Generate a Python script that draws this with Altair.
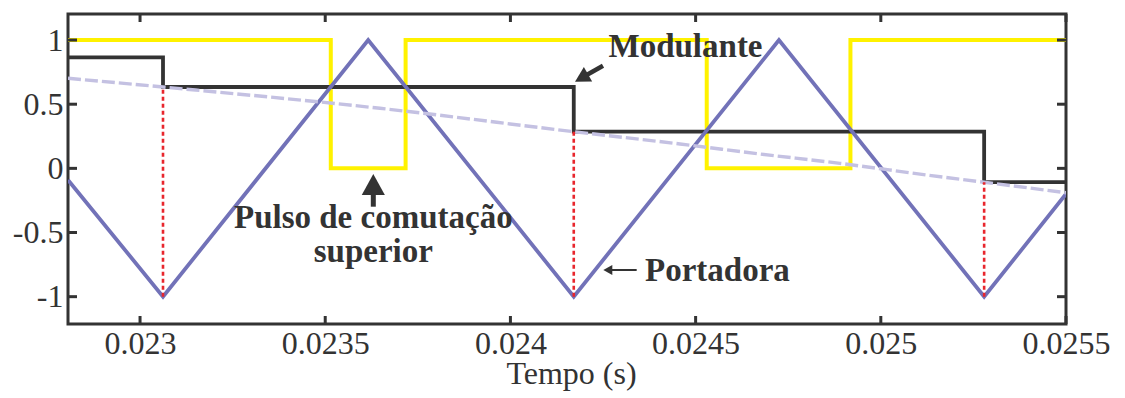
import altair as alt
import pandas as pd

# Time axis limits (s)
t_start = 0.0228055
t_end = 0.0255

# Triangular carrier ("Portadora") vertices
carrier_t = [t_start, 0.023062, 0.023616, 0.024171, 0.024725, 0.025279, t_end]
carrier_v = [-0.09, -1.0, 1.0, -1.0, 1.0, -1.0, -0.2]

# Continuous modulating wave (dashed)
wave_t = [t_start, 0.023062, 0.0236479, 0.024171, 0.0244579, 0.0246738,
          0.0248898, 0.0251247, 0.025279, t_end]
wave_v = [0.702, 0.634, 0.468, 0.286, 0.19, 0.112, 0.039, -0.052, -0.108, -0.19]

# Sampled-and-held modulating signal ("Modulante")
sample_t = [t_start, 0.023062, 0.024171, 0.025279, t_end]
sample_v = [0.865, 0.634, 0.286, -0.108, -0.108]

# Upper switch gate pulse
pulse_t = [t_start, 0.023515, 0.023717, 0.02453, 0.024918, t_end]
pulse_v = [1, 0, 1, 0, 1, 1]

# Sampling instants (red dashed markers)
mark_t = [0.023062, 0.024171, 0.025279]
mark_top = [0.634, 0.286, -0.108]

x_ticks = [0.023, 0.0235, 0.024, 0.0245, 0.025, 0.0255]
y_ticks = [-1, -0.5, 0, 0.5, 1]

FONT = "Liberation Serif"
INK = "#333333"
W, H = 998, 310

xs = alt.Scale(domain=[t_start, t_end], nice=False, zero=False)
ys = alt.Scale(domain=[-1.213, 1.203], nice=False, zero=False)

x_axis = alt.Axis(values=x_ticks, format=".4~f", labelFont=FONT, labelFontSize=32,
                  labelColor=INK, ticks=False, tickSize=0, domain=False, grid=False,
                  labelPadding=4, labelFlush=False, title="Tempo (s)", titleFont=FONT,
                  titleFontSize=32, titleFontWeight="normal", titleColor=INK,
                  titleX=503, titleY=59, titleBaseline="alphabetic", titleAlign="center")
y_axis = alt.Axis(values=y_ticks,
                  labelExpr="datum.value < 0 ? '-' + format(-datum.value, '~g') : format(datum.value, '~g')",
                  labelFont=FONT, labelFontSize=32, labelColor=INK, ticks=False, tickSize=0,
                  domain=False, grid=False, labelPadding=5, labelFlush=False, title=None)


def X(field="t"):
    return alt.X(f"{field}:Q", scale=xs, axis=x_axis)


def Y(field="v"):
    return alt.Y(f"{field}:Q", scale=ys, axis=y_axis)


def line_df(t, v):
    return pd.DataFrame({"t": t, "v": v})


pulse = alt.Chart(line_df(pulse_t, pulse_v)).mark_line(
    color="#fff200", strokeWidth=4, interpolate="step-after", clip=True
).encode(x=X(), y=Y())

held = alt.Chart(line_df(sample_t, sample_v)).mark_line(
    color=INK, strokeWidth=3.8, interpolate="step-after", clip=True
).encode(x=X(), y=Y())

carrier = alt.Chart(line_df(carrier_t, carrier_v)).mark_line(
    color="#7272b8", strokeWidth=3.8, clip=True
).encode(x=X(), y=Y())

wave = alt.Chart(line_df(wave_t, wave_v)).mark_line(
    color="#c4c1e2", strokeWidth=3.4, strokeDash=[13, 4], interpolate="monotone", clip=True
).encode(x=X(), y=Y())

marks = alt.Chart(pd.DataFrame({"t": mark_t, "v": [-1] * 3, "hi": mark_top})).mark_rule(
    color="#e8262d", strokeWidth=2.6, strokeDash=[4, 3]
).encode(x=X(), y=Y(), y2="hi:Q")

# Inward tick marks on all four sides
xt = pd.DataFrame({"t": x_ticks})
yt = pd.DataFrame({"v": y_ticks})
tick_style = dict(color=INK, strokeWidth=3)
ticks = [
    alt.Chart(xt).mark_rule(**tick_style).encode(x=X(), y=alt.value(H), y2=alt.value(H - 8)),
    alt.Chart(xt).mark_rule(**tick_style).encode(x=X(), y=alt.value(0), y2=alt.value(8)),
    alt.Chart(yt).mark_rule(**tick_style).encode(y=Y(), x=alt.value(0), x2=alt.value(9)),
    alt.Chart(yt).mark_rule(**tick_style).encode(y=Y(), x=alt.value(W), x2=alt.value(W - 9)),
]

# Annotations
labels = pd.DataFrame({
    "t": [0.0244727, 0.0236298, 0.0236298],
    "v": [0.870, -0.467, -0.729],
    "text": ["Modulante", "Pulso de comutação", "superior"],
})
label_text = alt.Chart(labels).mark_text(
    font=FONT, fontSize=33, fontWeight="bold", color=INK, align="center", baseline="alphabetic"
).encode(x=X(), y=Y(), text="text:N")

port_text = alt.Chart(pd.DataFrame({"t": [0.0243633], "v": [-0.875], "text": ["Portadora"]})).mark_text(
    font=FONT, fontSize=33, fontWeight="bold", color=INK, align="left", baseline="alphabetic"
).encode(x=X(), y=Y(), text="text:N")

shafts = pd.DataFrame({
    "t": [0.0242499, 0.0236298, 0.0243409],
    "v": [0.7998, -0.2988, -0.792],
    "t2": [0.0241986, 0.0236298, 0.0242600],
    "v2": [0.7156, -0.168, -0.792],
    "w": [4.5, 5, 2],
})
shaft_layers = [
    alt.Chart(shafts.iloc[[i]]).mark_rule(color=INK, strokeWidth=float(shafts.w[i])).encode(
        x=X(), y=Y(), x2="t2:Q", y2="v2:Q")
    for i in range(3)
]

HEAD = "M0,0 L-0.55,1 L0.55,1 Z"
heads = pd.DataFrame({
    "t": [0.0241744, 0.0236298, 0.0242508],
    "v": [0.6751, -0.044, -0.792],
    "angle": [240, 0, 270],
    "size": [900, 1764, 324],
})
head_layer = alt.Chart(heads).mark_point(
    shape=HEAD, filled=True, opacity=1, color=INK, strokeWidth=0
).encode(
    x=X(), y=Y(),
    angle=alt.Angle("angle:Q", scale=None), size=alt.Size("size:Q", scale=None, legend=None),
)

chart = alt.layer(
    pulse, held, carrier, wave, marks, *ticks, label_text, port_text, *shaft_layers, head_layer
).properties(
    width=W, height=H, autosize="none",
    padding={"left": 68, "top": 14, "right": 59, "bottom": 74},
    background="white",
).configure_view(stroke=INK, strokeWidth=3)

chart.save("out.html", embed_options={"renderer": "svg", "actions": False})
